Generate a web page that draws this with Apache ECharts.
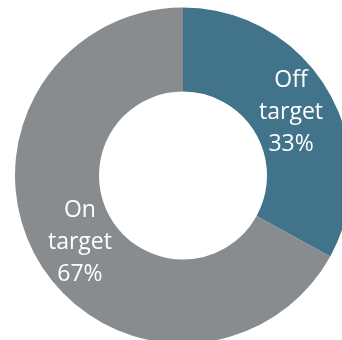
<!DOCTYPE html>
<html>
<head>
<meta charset="utf-8">
<script src="https://cdn.jsdelivr.net/npm/echarts@6/dist/echarts.min.js"></script>
<style>
html,body{margin:0;padding:0;background:#fff;}
#chart{width:342px;height:340px;}
</style>
</head>
<body>
<div id="chart"></div>
<script>
const categories = ['Off\ntarget', 'On\ntarget'];
const values = [33, 67];
const percentLabels = ['33%', '67%'];

const colors = ['#41748B', '#898C8F'];
const labelOffsets = [[-3, 3], [8, 1]];

const chart = echarts.init(document.getElementById('chart'), null, {renderer: 'canvas'});
chart.setOption({
  animation: false,
  series: [{
    type: 'pie',
    center: [183, 175.5],
    radius: [84, 168],
    startAngle: 90,
    clockwise: true,
    avoidLabelOverlap: false,
    silent: true,
    itemStyle: {borderWidth: 0},
    label: {
      show: true,
      position: 'inside',
      color: '#ffffff',
      fontFamily: 'Open Sans',
      fontSize: 23,
      lineHeight: 32,
      align: 'center'
    },
    labelLine: {show: false},
    data: categories.map((c, i) => ({
      name: c,
      value: values[i],
      itemStyle: {color: colors[i]},
      label: {
        formatter: c + '\n' + percentLabels[i],
        offset: labelOffsets[i]
      }
    }))
  }]
});
</script>
</body>
</html>
